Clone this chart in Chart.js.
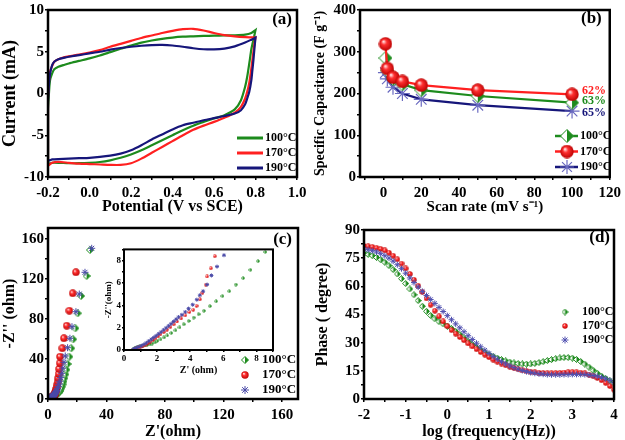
<!DOCTYPE html>
<html>
<head>
<meta charset="utf-8">
<script src="https://cdn.jsdelivr.net/npm/chart.js@4.4.0/dist/chart.umd.min.js"></script>
<style>
  body { margin: 0; background: #fff; }
  #fig { position: relative; width: 625px; height: 440px; }
  canvas { position: absolute; }
</style>
</head>
<body>
<div id="fig">
  <canvas id="cvA" width="312" height="215" style="left:0;top:0"></canvas>
  <canvas id="cvB" width="313" height="215" style="left:312px;top:0"></canvas>
  <canvas id="cvC" width="312" height="225" style="left:0;top:215px"></canvas>
  <canvas id="cvD" width="313" height="225" style="left:312px;top:215px"></canvas>
  <canvas id="cvIn" width="180" height="135" style="left:100px;top:243px"></canvas>
</div>
<script>
const labels = ['100°C', '170°C', '190°C'];

// (a) cyclic voltammetry: forward sweep, then reverse sweep
const cvForward = [-0.2, -0.195, -0.19, -0.18, -0.17, -0.15, -0.12, -0.1, -0.05, 0, 0.05, 0.1, 0.15, 0.2, 0.25, 0.3, 0.35, 0.4, 0.45, 0.5, 0.55, 0.6, 0.65, 0.7, 0.75, 0.78, 0.8];
const cvUp100 = [-1.8, 0.2, 1.6, 2.4, 2.9, 3.2, 3.45, 3.6, 3.9, 4.2, 4.55, 4.95, 5.35, 5.75, 6.1, 6.35, 6.55, 6.7, 6.8, 6.85, 6.9, 6.92, 6.95, 6.97, 7.05, 7.25, 7.6];
const cvUp170 = [-0.5, 1.5, 2.6, 3.3, 3.8, 4.1, 4.35, 4.45, 4.65, 4.9, 5.2, 5.6, 5.95, 6.3, 6.65, 6.95, 7.25, 7.5, 7.7, 7.75, 7.55, 7.25, 7.0, 6.85, 6.75, 6.72, 6.7];
const cvUp190 = [-1.0, 1.2, 2.4, 3.4, 3.8, 4.1, 4.3, 4.4, 4.6, 4.8, 5.0, 5.25, 5.45, 5.6, 5.72, 5.8, 5.82, 5.75, 5.6, 5.42, 5.3, 5.28, 5.38, 5.65, 6.1, 6.45, 6.7];
const cvReverse = [0.8, 0.795, 0.79, 0.785, 0.78, 0.77, 0.76, 0.75, 0.73, 0.7, 0.65, 0.6, 0.55, 0.5, 0.45, 0.4, 0.35, 0.3, 0.25, 0.2, 0.15, 0.1, 0.05, 0, -0.05, -0.1, -0.15, -0.18, -0.2];
const cvLow100 = [7.6, 7.0, 6.4, 5.9, 5.3, 3.6, 2.0, 0.8, -0.8, -1.9, -2.6, -3.0, -3.4, -3.85, -4.4, -5.0, -5.6, -6.2, -6.8, -7.3, -7.7, -8.0, -8.2, -8.3, -8.35, -8.35, -8.3, -8.3, -8.4];
const cvLow170 = [6.7, 6.0, 5.0, 4.0, 3.0, 1.3, 0.2, -0.6, -1.6, -2.3, -2.9, -3.4, -3.85, -4.35, -5.0, -5.7, -6.4, -7.1, -7.8, -8.35, -8.55, -8.55, -8.5, -8.45, -8.4, -8.3, -8.2, -8.3, -8.6];
const cvLow190 = [6.7, 5.4, 4.0, 2.8, 1.6, 0.2, -0.6, -1.3, -2.0, -2.4, -2.7, -2.95, -3.2, -3.5, -3.8, -4.3, -4.9, -5.5, -6.2, -6.8, -7.2, -7.45, -7.6, -7.7, -7.75, -7.8, -7.85, -7.9, -8.0];

// (b) specific capacitance vs scan rate
const scanRate = [1, 2, 5, 10, 20, 50, 100];
const cap100 = [285, 255, 235, 222, 208, 194, 178];
const cap170 = [319, 260, 239, 229, 220, 208, 198];
const cap190 = [250, 235, 215, 200, 186, 172, 158];
const retention = ['63%', '62%', '65%'];

// (c) Nyquist plot
const zRe100 = [0.55, 0.65, 0.8, 0.95, 1.1, 1.25, 1.4, 1.55, 1.7, 1.85, 2.0, 2.2, 2.4, 2.6, 2.85, 3.1, 3.35, 3.6, 3.9, 4.2, 4.5, 4.82, 5.18, 5.56, 5.94, 6.35, 6.75, 7.19, 7.63, 8.09, 8.53, 9.0, 9.5, 10.0, 10.6, 11.2, 11.9, 12.6, 13.4, 14.6, 15.9, 17.2, 18.7, 20.3, 22.6, 26.4, 28.7];
const zIm100 = [0.05, 0.15, 0.28, 0.36, 0.4, 0.42, 0.45, 0.5, 0.58, 0.68, 0.8, 0.95, 1.12, 1.3, 1.52, 1.76, 2.02, 2.3, 2.6, 2.9, 3.2, 3.51, 3.92, 4.36, 4.82, 5.26, 5.85, 6.43, 7.17, 7.95, 8.77, 10.4, 12.3, 14.6, 17.4, 20.7, 24.6, 29.3, 35.0, 42.3, 50.7, 59.7, 70.7, 85.7, 103, 123, 149];
const zRe170 = [0.55, 0.65, 0.75, 0.88, 1.0, 1.15, 1.3, 1.45, 1.6, 1.75, 1.9, 2.05, 2.2, 2.4, 2.6, 2.8, 3.0, 3.2, 3.45, 3.7, 3.95, 4.18, 4.38, 4.58, 4.74, 4.94, 5.02, 5.24, 5.48, 5.75, 6.05, 6.35, 6.65, 6.95, 7.3, 7.65, 8.0, 8.2, 9.8, 10.9, 12.8, 14.6, 16.9, 19.1];
const zIm170 = [0.03, 0.1, 0.18, 0.25, 0.3, 0.38, 0.47, 0.6, 0.75, 0.9, 1.05, 1.22, 1.4, 1.6, 1.82, 2.05, 2.3, 2.55, 2.82, 3.1, 3.4, 3.6, 3.95, 4.53, 5.12, 5.85, 6.58, 7.31, 8.39, 10.0, 12.0, 14.4, 17.3, 20.8, 25.0, 30.0, 35.8, 42.3, 50.7, 60.7, 73.3, 88.3, 105.7, 126.7];
const zRe190 = [0.55, 0.65, 0.75, 0.9, 1.05, 1.2, 1.35, 1.5, 1.65, 1.8, 1.95, 2.1, 2.25, 2.4, 2.55, 2.7, 2.85, 3.0, 3.15, 3.3, 3.5, 3.7, 3.9, 4.15, 4.4, 4.58, 4.78, 5.02, 5.28, 5.62, 6.04, 6.5, 7.0, 7.5, 8.1, 8.7, 9.4, 10.1, 10.9, 11.8, 13.4, 15.0, 16.4, 19.1, 21.4, 25.3, 29.9];
const zIm190 = [0.05, 0.12, 0.2, 0.28, 0.38, 0.5, 0.64, 0.8, 0.96, 1.12, 1.28, 1.45, 1.62, 1.8, 1.98, 2.16, 2.35, 2.55, 2.75, 2.95, 3.15, 3.4, 3.7, 4.05, 4.5, 4.9, 5.26, 5.85, 6.67, 7.46, 8.48, 10.2, 12.3, 14.8, 17.8, 21.4, 25.7, 30.8, 36.7, 43.0, 51.3, 60.7, 72.3, 87.3, 105, 126.7, 150.7];

// (d) Bode phase
const logFreq = [-2.0, -1.9, -1.8, -1.7, -1.6, -1.5, -1.4, -1.3, -1.2, -1.1, -1.0, -0.9, -0.8, -0.7, -0.6, -0.5, -0.4, -0.3, -0.2, -0.1, 0.0, 0.1, 0.2, 0.3, 0.4, 0.5, 0.6, 0.7, 0.8, 0.9, 1.0, 1.1, 1.2, 1.3, 1.4, 1.5, 1.6, 1.7, 1.8, 1.9, 2.0, 2.1, 2.2, 2.3, 2.4, 2.5, 2.6, 2.7, 2.8, 2.9, 3.0, 3.1, 3.2, 3.3, 3.4, 3.5, 3.6, 3.7, 3.8, 3.9, 4.0];
const phase100 = [77.5, 77.0, 76.3, 75.4, 74.2, 72.8, 71.0, 68.9, 66.6, 64.1, 61.5, 58.6, 55.5, 52.4, 49.4, 46.7, 44.5, 42.7, 41.2, 40.0, 38.8, 37.5, 36.0, 34.3, 32.5, 30.7, 29.0, 27.4, 26.0, 24.8, 23.7, 22.7, 21.8, 21.0, 20.3, 19.7, 19.2, 18.9, 18.7, 18.6, 18.7, 19.0, 19.4, 19.9, 20.5, 21.0, 21.5, 21.9, 22.1, 22.1, 21.8, 21.1, 20.0, 18.6, 17.0, 15.3, 13.7, 12.2, 10.9, 9.7, 8.6];
const phase170 = [81.5, 81.3, 81.0, 80.5, 79.9, 79.1, 77.9, 76.3, 74.4, 72.1, 69.5, 66.6, 63.5, 60.3, 57.0, 53.6, 50.2, 47.0, 44.0, 41.3, 38.8, 36.7, 34.8, 33.0, 31.3, 29.6, 28.0, 26.5, 25.0, 23.6, 22.3, 21.0, 19.9, 18.9, 18.0, 17.2, 16.5, 15.9, 15.3, 14.9, 14.5, 14.2, 14.0, 13.8, 13.7, 13.7, 13.8, 13.9, 14.1, 14.2, 14.3, 14.2, 14.0, 13.6, 13.0, 12.2, 11.2, 10.0, 8.6, 6.9, 5.0];
const phase190 = [79.8, 79.5, 79.0, 78.3, 77.4, 76.3, 75.0, 73.4, 71.5, 69.4, 67.0, 64.5, 62.0, 59.6, 57.3, 55.1, 53.0, 50.9, 48.8, 46.6, 44.4, 42.2, 40.0, 37.9, 35.8, 33.7, 31.7, 29.7, 27.8, 26.0, 24.3, 22.7, 21.2, 19.9, 18.7, 17.6, 16.7, 15.9, 15.2, 14.6, 14.1, 13.7, 13.4, 13.2, 13.0, 12.9, 12.9, 12.9, 13.0, 13.0, 13.1, 13.1, 13.1, 13.0, 12.8, 12.5, 12.1, 11.5, 10.8, 9.9, 8.8];

const GREEN = '#1d8b1d', RED = '#ff2020', NAVY = '#16167a', STAR = '#5a5ab4';
const FONT = '"Liberation Serif", "Times New Roman", serif';
Chart.defaults.font.family = FONT;
Chart.defaults.font.weight = 'bold';
Chart.defaults.color = '#000';

function pts(xs, ys) { return xs.map((x, i) => ({x: x, y: ys[i]})); }
function cvLoop(up, low) {
  const p = pts(cvForward, up).concat(pts(cvReverse, low));
  p.push(p[0]);
  return p;
}
function isMult(v, s) { return Math.abs(v / s - Math.round(v / s)) < 1e-6; }

// marker pictures
function halfDiamond(s, col) {
  const c = document.createElement('canvas');
  c.width = c.height = s;
  const g = c.getContext('2d'), h = s / 2;
  const shape = () => { g.beginPath(); g.moveTo(h, 0.5); g.lineTo(s - 0.5, h); g.lineTo(h, s - 0.5); g.lineTo(0.5, h); g.closePath(); };
  shape(); g.fillStyle = '#fff'; g.fill();
  g.beginPath(); g.moveTo(h, 0.5); g.lineTo(s - 0.5, h); g.lineTo(h, s - 0.5); g.closePath();
  g.fillStyle = col; g.fill();
  shape(); g.strokeStyle = col; g.lineWidth = 1; g.stroke();
  return c;
}
function ball(s) {
  const c = document.createElement('canvas');
  c.width = c.height = s;
  const g = c.getContext('2d'), r = s / 2;
  const grd = g.createRadialGradient(r * 0.7, r * 0.65, r * 0.05, r, r, r);
  grd.addColorStop(0, '#ffe8e8');
  grd.addColorStop(0.35, '#ff3030');
  grd.addColorStop(1, '#b80000');
  g.beginPath(); g.arc(r, r, r - 0.3, 0, Math.PI * 2);
  g.fillStyle = grd; g.fill();
  return c;
}

function axis(o) {
  return {
    type: 'linear', min: o.min, max: o.max,
    // ticks every o.step from the first multiple inside the range
    afterBuildTicks: s => {
      const t = [];
      for (let k = Math.ceil(o.min / o.step - 1e-9); k * o.step <= o.max + 1e-9; k++) t.push({value: +(k * o.step).toFixed(6)});
      s.ticks = t;
    },
    afterFit: s => { if (s.isHorizontal()) s.height = o.size; else s.width = o.size; },
    border: {display: false},
    grid: {display: true, drawOnChartArea: false, drawTicks: true, tickLength: o.tl || 3, color: '#000', lineWidth: 1.5},
    ticks: {
      stepSize: o.step, autoSkip: false, maxRotation: 0, padding: o.pad || 2,
      font: {size: o.ts || 15, weight: 'bold'}, color: '#000',
      callback: v => isMult(v, o.major) ? (o.fmt ? o.fmt(v) : String(Math.round(v))) : ''
    },
    title: {display: true, text: o.title, color: '#000', padding: o.tp || 0,
      font: {size: o.tsz || 16, weight: 'bold', lineHeight: 1}}
  };
}

const decor = {
  id: 'decor',
  afterDatasetsDraw(chart, args, o) {
    const ctx = chart.ctx, a = chart.chartArea;
    ctx.save();
    ctx.strokeStyle = '#000';
    ctx.lineWidth = o.frame || 2.5;
    ctx.strokeRect(a.left, a.top, a.right - a.left, a.bottom - a.top);
    ctx.fillStyle = '#000';
    if (o.label) {
      ctx.font = 'bold 17px ' + FONT;
      ctx.textAlign = 'right';
      ctx.textBaseline = 'middle';
      ctx.fillText(o.label, a.right - o.ldx, a.top + o.ldy);
    }
    (o.notes || []).forEach(n => {
      const els = chart.getDatasetMeta(n.ds).data;
      const p = els[els.length - 1];
      ctx.font = 'bold 12px ' + FONT;
      ctx.textAlign = 'left';
      ctx.textBaseline = 'middle';
      ctx.fillStyle = chart.data.datasets[n.ds].borderColor;
      ctx.fillText(n.text, p.x + 10, p.y + n.dy);
    });
    const L = o.legend;
    if (L) {
      chart.data.datasets.forEach((ds, i) => {
        const y = L.y + i * L.gap;
        if (L.line) {
          ctx.strokeStyle = ds.borderColor;
          ctx.lineWidth = L.lw;
          ctx.beginPath(); ctx.moveTo(L.x0, y); ctx.lineTo(L.x1, y); ctx.stroke();
        }
        if (L.mx != null) {
          ctx.strokeStyle = ds.pointBorderColor || ds.borderColor;
          ctx.fillStyle = ds.backgroundColor;
          ctx.lineWidth = ds.pointBorderWidth || 1;
          Chart.helpers.drawPoint(ctx, {pointStyle: ds.pointStyle, radius: L.r, rotation: 0,
            borderWidth: ds.pointBorderWidth || 1}, L.mx, y);
        }
        ctx.fillStyle = '#000';
        ctx.font = 'bold ' + L.fs + 'px ' + FONT;
        ctx.textAlign = 'left';
        ctx.textBaseline = 'middle';
        ctx.fillText(ds.label, L.tx, y);
      });
    }
    ctx.restore();
  }
};
Chart.register(decor);

function baseOpts(pad, scales, dec) {
  return {
    responsive: false, animation: false, events: [], devicePixelRatio: 1,
    layout: {padding: pad},
    scales: scales,
    plugins: {legend: {display: false}, tooltip: {enabled: false}, decor: dec}
  };
}

// (a)
new Chart(document.getElementById('cvA'), {
  type: 'scatter',
  data: {datasets: [
    {label: labels[0], data: cvLoop(cvUp100, cvLow100), borderColor: GREEN, order: 2},
    {label: labels[1], data: cvLoop(cvUp170, cvLow170), borderColor: RED, order: 1},
    {label: labels[2], data: cvLoop(cvUp190, cvLow190), borderColor: NAVY, order: 0}
  ].map(d => Object.assign(d, {showLine: true, pointRadius: 0, borderWidth: 2.2, tension: 0.25}))},
  options: baseOpts({top: 5, right: 15, left: 0, bottom: 0}, {
    x: axis({min: -0.2, max: 1.0, step: 0.1, major: 0.2, size: 38, pad: 4, fmt: v => v.toFixed(1), title: 'Potential (V vs SCE)'}),
    y: axis({min: -10, max: 10, step: 2.5, major: 5, size: 48, pad: 1, title: 'Current (mA)', tsz: 18, tp: 1})
  }, {label: '(a)', ldx: 5, ldy: 10,
      legend: {line: true, x0: 237, x1: 263, lw: 3, tx: 265, y: 138, gap: 15, fs: 12}})
});

// (b)
new Chart(document.getElementById('cvB'), {
  type: 'scatter',
  data: {datasets: [
    {label: labels[0], data: pts(scanRate, cap100), borderColor: GREEN, backgroundColor: GREEN,
      pointStyle: halfDiamond(14, GREEN), order: 1},
    {label: labels[1], data: pts(scanRate, cap170), borderColor: RED, backgroundColor: RED,
      pointStyle: ball(14), order: 0},
    {label: labels[2], data: pts(scanRate, cap190), borderColor: NAVY, backgroundColor: STAR,
      pointStyle: 'star', pointRadius: 7.5, pointBorderColor: '#6a6ac0', pointBorderWidth: 1.2, order: 2}
  ].map(d => Object.assign(d, {showLine: true, borderWidth: 2.2}))},
  options: baseOpts({top: 6, right: 10, left: 0, bottom: 0}, {
    x: axis({min: -12.5, max: 120, step: 10, major: 20, size: 38, pad: 4, title: 'Scan rate (mV s⁻¹)', tsz: 15}),
    y: axis({min: 0, max: 400, step: 50, major: 100, size: 48, pad: 1, title: 'Specific Capacitance (F g⁻¹)', tsz: 14, tp: 1})
  }, {label: '(b)', ldx: 8, ldy: 9,
      notes: [{ds: 1, text: retention[1], dy: -3}, {ds: 0, text: retention[0], dy: -2}, {ds: 2, text: retention[2], dy: 1.5}],
      legend: {line: true, x0: 243, x1: 266, lw: 2.5, mx: 255, r: 7, tx: 268, y: 136, gap: 15.5, fs: 12}})
});

// (c) main
const nyq = (mk, sz) => [
  {label: labels[0], data: pts(zRe100, zIm100), borderColor: GREEN, backgroundColor: GREEN, pointStyle: halfDiamond(mk, GREEN), order: 2},
  {label: labels[1], data: pts(zRe170, zIm170), borderColor: RED, backgroundColor: RED, pointStyle: ball(mk), order: 1},
  {label: labels[2], data: pts(zRe190, zIm190), borderColor: STAR, backgroundColor: STAR, pointStyle: 'star', pointRadius: sz, pointBorderColor: '#4a4aa8', pointBorderWidth: 1, order: 0}
];
new Chart(document.getElementById('cvC'), {
  type: 'scatter',
  data: {datasets: nyq(8, 3.5)},
  options: baseOpts({top: 13, right: 14, left: 0, bottom: 0}, {
    x: axis({min: 0, max: 171, step: 20, major: 40, size: 41, pad: 4, title: "Z'(ohm)"}),
    y: axis({min: 0, max: 171, step: 20, major: 40, size: 48, pad: 1, title: "-Z'' (ohm)", tp: 2})
  }, {label: '(c)', ldx: 6, ldy: 12,
      legend: {mx: 245, r: 4, tx: 262, y: 145, gap: 15, fs: 13}})
});

// (c) inset
new Chart(document.getElementById('cvIn'), {
  type: 'scatter',
  data: {datasets: nyq(4, 2)},
  options: baseOpts({top: 4, right: 7, left: 0, bottom: 0}, {
    x: axis({min: 0, max: 9, step: 1, major: 2, size: 28, pad: 1, tl: 2, ts: 9, title: "Z' (ohm)", tsz: 10, tp: 3}),
    y: axis({min: 0, max: 9, step: 1, major: 2, size: 24, pad: 1, tl: 2, ts: 9, title: "-Z''(ohm)", tsz: 9, tp: 4})
  }, {frame: 2})
});

// (d)
new Chart(document.getElementById('cvD'), {
  type: 'scatter',
  data: {datasets: [
    {label: labels[0], data: pts(logFreq, phase100), borderColor: GREEN, backgroundColor: GREEN, pointStyle: halfDiamond(7, GREEN), order: 2},
    {label: labels[1], data: pts(logFreq, phase170), borderColor: RED, backgroundColor: RED, pointStyle: ball(6), order: 1},
    {label: labels[2], data: pts(logFreq, phase190), borderColor: STAR, backgroundColor: STAR, pointStyle: 'star', pointRadius: 3, pointBorderColor: '#5050b0', pointBorderWidth: 1, order: 0}
  ]},
  options: baseOpts({top: 15, right: 11, left: 0, bottom: 0}, {
    x: axis({min: -2, max: 4, step: 0.5, major: 1, size: 41, pad: 4, title: 'log (frequency(Hz))'}),
    y: axis({min: 0, max: 90, step: 7.5, major: 15, size: 52, pad: 1, title: 'Phase ( degree)', tp: 3})
  }, {label: '(d)', ldx: 4, ldy: 8,
      legend: {mx: 253, r: 3.5, tx: 270, y: 97, gap: 14, fs: 12}})
});
</script>
</body>
</html>
